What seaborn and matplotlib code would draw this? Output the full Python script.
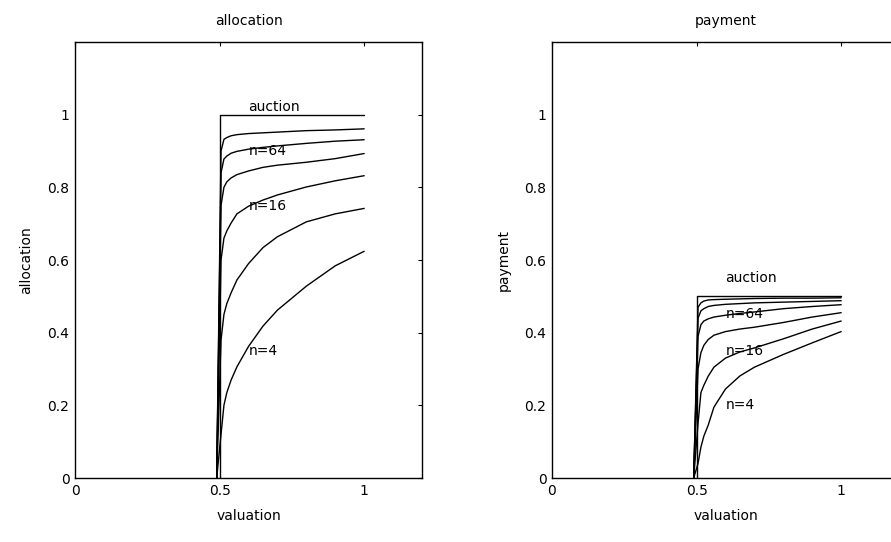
import numpy as np
import pandas as pd
import seaborn as sns
import matplotlib
matplotlib.use('Agg')
import matplotlib.pyplot as plt

###############################
######### data ################
###############################
valuation = [0.49, 0.505, 0.515, 0.525, 0.54, 0.56, 0.6, 0.65, 0.7, 0.8, 0.9, 1.0]
n_agents = [4, 8, 16, 32, 64, 128]

## allocation curves
alloc_4 = [0, 0.12, 0.20, 0.235, 0.27, 0.306, 0.362, 0.418, 0.462, 0.528, 0.584, 0.624]
alloc_8 = [0, 0.38, 0.45, 0.48, 0.51, 0.545, 0.59, 0.634, 0.664, 0.705, 0.727, 0.742]
alloc_16 = [0, 0.60, 0.66, 0.68, 0.702, 0.727, 0.748, 0.765, 0.779, 0.801, 0.818, 0.832]
alloc_32 = [0, 0.75, 0.80, 0.815, 0.826, 0.835, 0.845, 0.855, 0.861, 0.869, 0.879, 0.893]
alloc_64 = [0, 0.84, 0.878, 0.886, 0.894, 0.899, 0.905, 0.91, 0.914, 0.921, 0.927, 0.931]
alloc_128 = [0, 0.90, 0.932, 0.937, 0.942, 0.945, 0.948, 0.95, 0.952, 0.956, 0.958, 0.961]

## payment curves
pay_4 = [0, 0.04, 0.085, 0.115, 0.145, 0.195, 0.245, 0.281, 0.305, 0.34, 0.372, 0.403]
pay_8 = [0, 0.15, 0.235, 0.255, 0.28, 0.305, 0.33, 0.347, 0.358, 0.383, 0.41, 0.432]
pay_16 = [0, 0.30, 0.345, 0.365, 0.381, 0.393, 0.403, 0.41, 0.415, 0.428, 0.443, 0.455]
pay_32 = [0, 0.39, 0.422, 0.432, 0.438, 0.443, 0.448, 0.453, 0.457, 0.466, 0.472, 0.477]
pay_64 = [0, 0.44, 0.46, 0.466, 0.472, 0.475, 0.478, 0.48, 0.482, 0.484, 0.486, 0.488]
pay_128 = [0, 0.47, 0.482, 0.487, 0.49, 0.491, 0.492, 0.493, 0.494, 0.495, 0.495, 0.496]

## auction (step)
auction_x = [0.5, 0.5, 1.0]
auction_alloc = [0, 1, 1]
auction_pay = [0, 0.5, 0.5]

## ticks
xticks = [0, 0.5, 1]
xticklabels = ['0', '0.5', '1']
yticks = [0, 0.2, 0.4, 0.6, 0.8, 1]
yticklabels = ['0', '0.2', '0.4', '0.6', '0.8', '1']

## curve labels: (text, x, y)
alloc_labels = [('auction', 0.6, 1.02), ('n=64', 0.6, 0.9), ('n=16', 0.6, 0.75), ('n=4', 0.6, 0.35)]
pay_labels = [('auction', 0.6, 0.55), ('n=64', 0.6, 0.45), ('n=16', 0.6, 0.35), ('n=4', 0.6, 0.2)]


def make_long(curves, auction_y):
    frames = []
    for n, ys in zip(n_agents, curves):
        frames.append(pd.DataFrame({'valuation': valuation, 'value': ys, 'curve': 'n=%d' % n}))
    frames.append(pd.DataFrame({'valuation': auction_x, 'value': auction_y, 'curve': 'auction'}))
    return pd.concat(frames, ignore_index=True)


alloc_df = make_long([alloc_4, alloc_8, alloc_16, alloc_32, alloc_64, alloc_128], auction_alloc)
pay_df = make_long([pay_4, pay_8, pay_16, pay_32, pay_64, pay_128], auction_pay)

##############################
######## plot ################
##############################
sns.set_style('white')
plt.rcParams.update({
    'font.family': ['DejaVu Sans'],
    'font.size': 10,
    'axes.labelsize': 10,
    'xtick.labelsize': 10,
    'ytick.labelsize': 10,
    'text.color': 'black',
    'axes.labelcolor': 'black',
    'xtick.color': 'black',
    'ytick.color': 'black',
    'axes.edgecolor': 'black',
    'axes.linewidth': 1.0,
    'xtick.direction': 'in',
    'ytick.direction': 'in',
    })

fig = plt.figure(figsize=(8.91, 5.42), dpi=100)
ax1 = fig.add_axes([75/891, 64/542, 347/891, 436/542])
ax2 = fig.add_axes([552/891, 64/542, 347/891, 436/542])

panels = [(ax1, alloc_df, 'allocation', alloc_labels),
          (ax2, pay_df, 'payment', pay_labels)]

for ax, df, name, labels in panels:
    sns.lineplot(data=df, x='valuation', y='value', units='curve', estimator=None,
                 sort=False, color='black', linewidth=1.0, ax=ax)
    for txt, tx, ty in labels:
        ax.text(tx, ty, txt, ha='left', va='center', fontsize=10, color='black')
    ax.set_xlim(0, 1.2)
    ax.set_ylim(0, 1.2)
    ax.set_xticks(xticks)
    ax.set_xticklabels(xticklabels)
    ax.set_yticks(yticks)
    ax.set_yticklabels(yticklabels)
    ax.tick_params(top=True, right=True, length=3, width=0.8, pad=4, colors='black')
    ax.set_xlabel('valuation', labelpad=8)
    ax.set_ylabel(name, labelpad=10)
    ax.set_title(name, fontsize=10, pad=12, color='black')
    for sp in ax.spines.values():
        sp.set_visible(True)

fig.savefig('out.png', dpi=100)
